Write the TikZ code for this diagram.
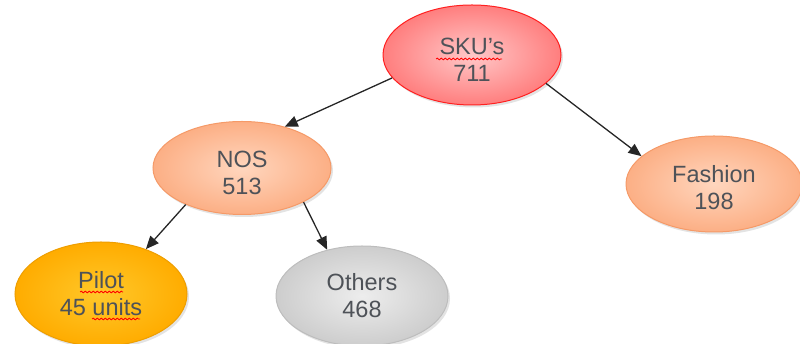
\documentclass[tikz,border=0pt]{standalone}
\usepackage{fontspec}
\setmainfont{Liberation Sans}
\usetikzlibrary{shapes.geometric,arrows.meta,shadows,decorations.pathmorphing,calc}
\definecolor{txt}{HTML}{4E5258}
\definecolor{skuin}{HTML}{FFC8C8}
\definecolor{skuout}{HTML}{FF7E7E}
\definecolor{skuline}{HTML}{FF2020}
\definecolor{peachin}{HTML}{FFD6BE}
\definecolor{peachout}{HTML}{FCAF85}
\definecolor{peachline}{HTML}{F59A68}
\definecolor{pilotin}{HTML}{FFC82A}
\definecolor{pilotout}{HTML}{FFAC00}
\definecolor{pilotline}{HTML}{EE9E00}
\definecolor{grayin}{HTML}{EDEDED}
\definecolor{grayout}{HTML}{CDCDCD}
\definecolor{grayline}{HTML}{BDBDBD}
\newcommand\firstline[1]{\rule{0pt}{#1}}
\tikzset{
  bubble/.style={ellipse, draw, line width=1pt, align=center, text=txt,
    font=\fontsize{23.5}{27}\selectfont, inner sep=0pt,
    drop shadow={opacity=0.22, shadow xshift=2pt, shadow yshift=-2.5pt}},
  skub/.style={bubble, draw=skuline, inner color=skuin, outer color=skuout},
  peachb/.style={bubble, draw=peachline, inner color=peachin, outer color=peachout},
  pilotb/.style={bubble, draw=pilotline, inner color=pilotin, outer color=pilotout},
  grayb/.style={bubble, draw=grayline, inner color=grayin, outer color=grayout},
  conn/.style={-{Triangle[length=13pt,width=11pt]}, line width=1.3pt, draw=black!85},
  wave/.style={draw=red, line width=0.8pt, decorate,
    decoration={snake, amplitude=0.9pt, segment length=4pt}}
}
\begin{document}
\begin{tikzpicture}[x=1pt,y=1pt]
\useasboundingbox (0,0) rectangle (800,344);
\node[skub, minimum width=178pt, minimum height=100pt] (sku) at (472,289) {\firstline{27pt}SKU's\\711};
\node[peachb, minimum width=178pt, minimum height=93pt] (nos) at (242,176) {\firstline{27pt}NOS\\513};
\node[peachb, minimum width=176pt, minimum height=96pt] (fashion) at (714,160) {\firstline{25pt}Fashion\\198};
\node[pilotb, minimum width=172pt, minimum height=104pt] (pilot) at (101,50) {Pilot\\45 units};
\node[grayb, minimum width=172pt, minimum height=100pt] (others) at (362,48) {Others\\468};
\draw[wave] ($(sku)+(-36,-4)$) -- ($(sku)+(30,-4)$);
\draw[wave] ($(pilot)+(-21,2)$) -- ($(pilot)+(22,2)$);
\draw[wave] ($(pilot)+(-9,-25)$) -- ($(pilot)+(39,-25)$);
\draw[conn] (sku.196) -- (nos.44);
\draw[conn] (sku.339) -- (fashion.159);
\draw[conn] (nos.213) -- (pilot.45);
\draw[conn] (nos.331) -- (others.127);
\end{tikzpicture}
\end{document}
